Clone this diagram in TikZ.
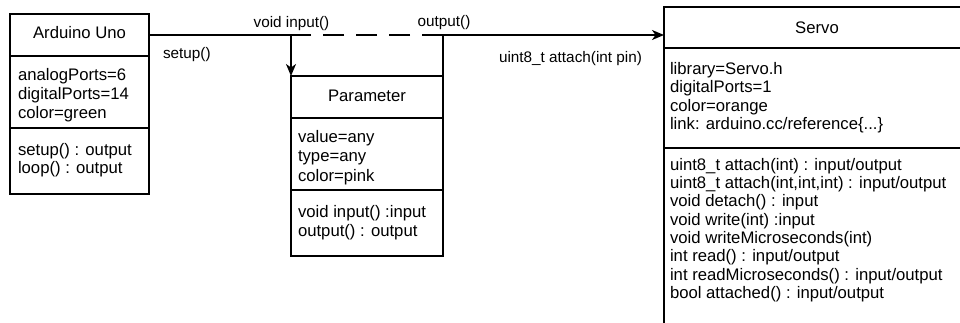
\documentclass[tikz,border=0pt]{standalone}
\usepackage{fontspec}
\setmainfont{Liberation Sans}
\usetikzlibrary{arrows.meta}
\begin{document}
\begin{tikzpicture}[x=1pt,y=-1pt,
  cell/.style={draw, line width=1.3pt, inner sep=0pt, outer sep=0pt, anchor=north west, rectangle},
  txt/.style={inner sep=0pt, outer sep=0pt, anchor=base west, font=\fontsize{16.7}{20}\selectfont},
  ttl/.style={inner sep=0pt, outer sep=0pt, anchor=base, font=\fontsize{16.7}{20}\selectfont},
  lbl/.style={inner sep=0pt, outer sep=0pt, anchor=base, font=\fontsize{15.3}{18}\selectfont},
  conn/.style={line width=1.3pt},
  tip/.style={-{Stealth[length=12pt,width=10pt,inset=3.5pt]}}
]
\useasboundingbox (0,0) rectangle (960,322);
\clip (0,0) rectangle (960,322);

% Arduino Uno
\node[cell, minimum width=139pt, minimum height=42pt] (ardhead) at (10,14) {};
\node[cell, minimum width=139pt, minimum height=72pt] (ardattr) at (10,56) {};
\node[cell, minimum width=139pt, minimum height=66pt] (ardops) at (10,128) {};
\node[ttl] (ardtitle) at (79.5,38) {Arduino Uno};
\node[txt] (arda1) at (18,80) {analogPorts=6};
\node[txt] (arda2) at (18,99) {digitalPorts=14};
\node[txt] (arda3) at (18,118) {color=green};
\node[txt] (ardo1) at (18,155) {setup() : output};
\node[txt] (ardo2) at (18,173.5) {loop() : output};

% Parameter
\node[cell, minimum width=152pt, minimum height=42pt] (parhead) at (291,76) {};
\node[cell, minimum width=152pt, minimum height=72pt] (parattr) at (291,118) {};
\node[cell, minimum width=152pt, minimum height=66pt] (parops) at (291,190) {};
\node[ttl] (partitle) at (367,101) {Parameter};
\node[txt] (para1) at (298,142) {value=any};
\node[txt] (para2) at (298,161.5) {type=any};
\node[txt] (para3) at (298,181) {color=pink};
\node[txt] (paro1) at (298,217) {void input() :input};
\node[txt] (paro2) at (298,236) {output() : output};

% Servo
\node[cell, minimum width=306pt, minimum height=41pt] (srvhead) at (664,7) {};
\node[cell, minimum width=306pt, minimum height=100pt] (srvattr) at (664,48) {};
\node[cell, minimum width=306pt, minimum height=200pt] (srvops) at (664,148) {};
\node[ttl] (srvtitle) at (817,33) {Servo};
\node[txt] (srva1) at (670,74) {library=Servo.h};
\node[txt] (srva2) at (670,92.5) {digitalPorts=1};
\node[txt] (srva3) at (670,111) {color=orange};
\node[txt] (srva4) at (670,129.5) {link: arduino.cc/reference\{...\}};
\node[txt] (srvo1) at (670,170) {uint8\_t attach(int) : input/output};
\node[txt] (srvo2) at (670,188.3) {uint8\_t attach(int,int,int) : input/output};
\node[txt] (srvo3) at (670,206.7) {void detach() : input};
\node[txt] (srvo4) at (670,225) {void write(int) :input};
\node[txt] (srvo5) at (670,243.3) {void writeMicroseconds(int)};
\node[txt] (srvo6) at (670,261.7) {int read() : input/output};
\node[txt] (srvo7) at (670,280) {int readMicroseconds() : input/output};
\node[txt] (srvo8) at (670,298.3) {bool attached() : input/output};

% connectors
\coordinate (topL) at (parhead.north west |- ardhead.east);
\coordinate (topR) at (parhead.north east |- ardhead.east);
\draw[conn, tip] (ardhead.east) -- (topL) -- (parhead.north west);
\draw[conn, tip] (parhead.north east) -- (topR) -- (ardhead.east -| srvhead.west);
\draw[conn, dash pattern=on 21pt off 12pt] (topR) -- (topL);

% labels
\node[lbl] (lvoid) at (291.5,27) {void input()};
\node[lbl] (lout) at (444,26) {output()};
\node[lbl, anchor=base west] (lsetup) at (163,58) {setup()};
\node[lbl] (lattach) at (570.5,62) {uint8\_t attach(int pin)};
\end{tikzpicture}
\end{document}
